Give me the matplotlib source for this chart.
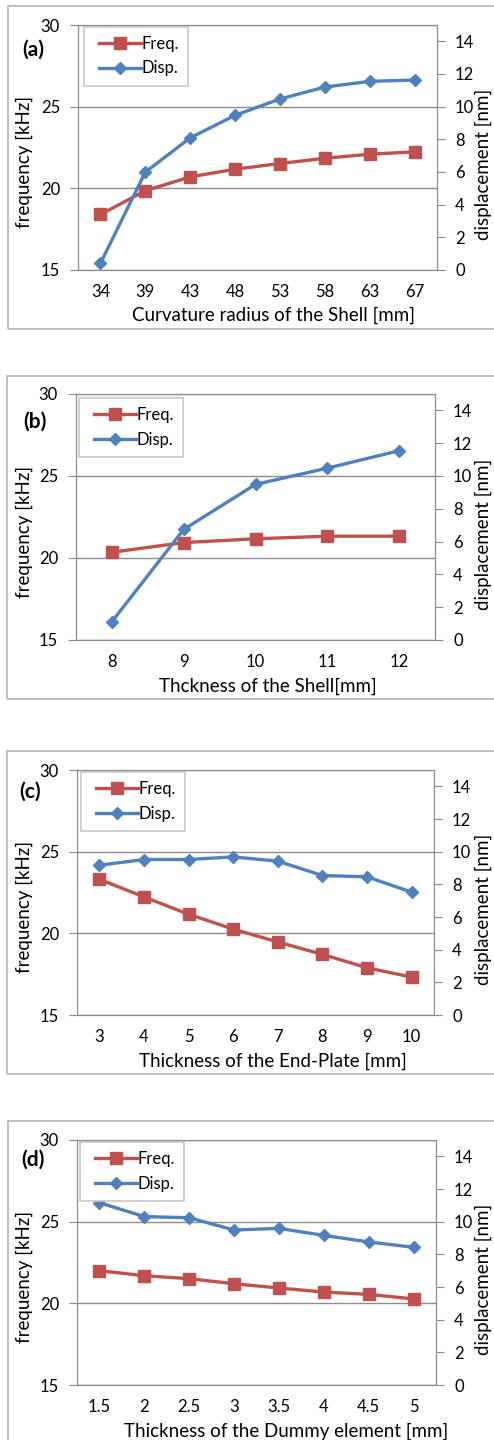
import numpy as np
import matplotlib.pyplot as plt
from matplotlib.patches import Rectangle
from matplotlib.legend_handler import HandlerLine2D

plt.rcParams['font.family'] = ['Lato', 'DejaVu Sans']

# (a) curvature radius of the shell
cats_a = ['34', '39', '43', '48', '53', '58', '63', '67']
freq_a = [18.4, 19.85, 20.7, 21.17, 21.52, 21.84, 22.09, 22.23]
disp_a = [0.41, 5.99, 8.09, 9.47, 10.47, 11.2, 11.55, 11.63]

# (b) thickness of the shell
cats_b = ['8', '9', '10', '11', '12']
freq_b = [20.35, 20.94, 21.17, 21.33, 21.33]
disp_b = [1.12, 6.74, 9.49, 10.48, 11.54]

# (c) thickness of the end-plate
cats_c = ['3', '4', '5', '6', '7', '8', '9', '10']
freq_c = [23.31, 22.23, 21.17, 20.26, 19.47, 18.71, 17.89, 17.32]
disp_c = [9.17, 9.52, 9.52, 9.68, 9.42, 8.54, 8.46, 7.52]

# (d) thickness of the dummy element
cats_d = ['1.5', '2', '2.5', '3', '3.5', '4', '4.5', '5']
freq_d = [22.0, 21.69, 21.51, 21.2, 20.94, 20.69, 20.55, 20.27]
disp_d = [11.16, 10.31, 10.24, 9.49, 9.59, 9.16, 8.76, 8.43]

xlabels = ['Curvature radius of the Shell [mm]', 'Thckness of the Shell[mm]',
           'Thickness of the End-Plate [mm]', 'Thickness of the Dummy element [mm]']
tags = ['(a)', '(b)', '(c)', '(d)']

W, H = 494, 1440
RED = '#c0504d'
BLUE = '#4f81bd'
GREY = '#8c8c8c'

# pixel layout: axes box (left, right, top, bottom), frame (left, top, bottom),
# legend corner, tag position, xlabel position (centre x, top y)
panels = [
    dict(ax=(78, 437, 25, 270), frame=(8, 6, 329), leg=(84, 27), tag=(33, 50), xl=(274, 307)),
    dict(ax=(76, 435, 394, 640), frame=(7, 376, 699), leg=(79, 398), tag=(35, 422), xl=(268, 678)),
    dict(ax=(77, 434, 770, 1015), frame=(7, 751, 1074), leg=(81, 772), tag=(30, 792), xl=(273, 1053)),
    dict(ax=(77, 436, 1140, 1385), frame=(8, 1121, 1460), leg=(80, 1142), tag=(33, 1160), xl=(286, 1423)),
]
data = [(cats_a, freq_a, disp_a), (cats_b, freq_b, disp_b),
        (cats_c, freq_c, disp_c), (cats_d, freq_d, disp_d)]

fig = plt.figure(figsize=(W / 100, H / 100), dpi=100)

for p, (cats, freq, disp), xlab, tag in zip(panels, data, xlabels, tags):
    l, r, t, b = p['ax']
    ax = fig.add_axes([l / W, 1 - b / H, (r - l) / W, (b - t) / H])
    ax2 = ax.twinx()
    n = len(cats)
    x = np.arange(n)

    f_line, = ax.plot(x, freq, color=RED, lw=2.4, marker='s', ms=8, label='Freq.')
    d_line, = ax2.plot(x, disp, color=BLUE, lw=2.4, marker='D', ms=6.5, label='Disp.')

    ax.set_xlim(-0.5, n - 0.5)
    ax.set_ylim(15, 30)
    ax.set_yticks([15, 20, 25, 30])
    ax2.set_ylim(0, 15)
    ax2.set_yticks(range(0, 15, 2))
    ax.set_xticks(x)
    ax.set_xticklabels(cats)
    ax.tick_params(axis='x', length=0, pad=10, labelsize=12)
    ax.tick_params(axis='y', length=6, color=GREY, pad=7, labelsize=12)
    ax2.tick_params(axis='y', length=6, color=GREY, pad=7, labelsize=12)
    ax.grid(axis='y', color=GREY, lw=1)
    for s in ax.spines.values():
        s.set_color(GREY)
    for s in ax2.spines.values():
        s.set_color(GREY)

    ax.set_ylabel('frequency [kHz]', fontsize=13.5)
    ax.yaxis.set_label_coords((33 - l) / (r - l), 0.44)
    ax2.set_ylabel('displacement [nm]', fontsize=13.5, rotation=90)
    ax2.yaxis.set_label_coords((475 - l) / (r - l), 0.43)
    ax.set_xlabel(xlab, fontsize=13.5)
    ax.xaxis.set_label_coords((p['xl'][0] - l) / (r - l), (b - p['xl'][1]) / (b - t))

    fl, ft, fb = p['frame']
    fig.patches.append(Rectangle((fl / W, 1 - fb / H), (W + 20 - fl) / W, (fb - ft) / H,
                                 transform=fig.transFigure, fill=False,
                                 edgecolor='#b4b4b4', lw=1.2))

    fig.text(p['tag'][0] / W, 1 - p['tag'][1] / H, tag, fontsize=15,
             fontweight='bold', ha='center', va='center')

    leg = fig.legend([f_line, d_line], ['Freq.', 'Disp.'], loc='upper left',
                     bbox_to_anchor=(p['leg'][0] / W, 1 - p['leg'][1] / H),
                     fancybox=False, edgecolor='#c8c8c8', framealpha=1,
                     fontsize=12, handlelength=2.85, handletextpad=0.05,
                     borderaxespad=0, borderpad=0.55, labelspacing=0.5,
                     handler_map={f_line: HandlerLine2D(xpad=0.35),
                                  d_line: HandlerLine2D(xpad=0.35)})
    leg.get_frame().set_linewidth(1.2)

plt.savefig('out.png', dpi=100)
